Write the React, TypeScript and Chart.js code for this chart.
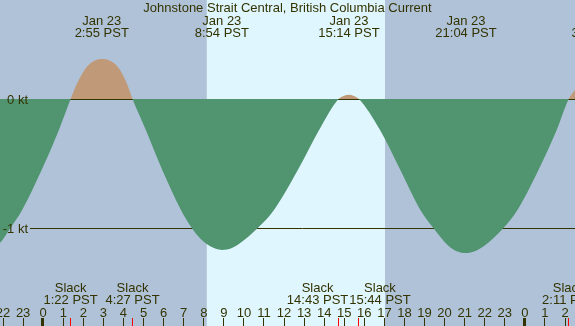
import React, { useEffect, useRef } from 'react';
import Chart from 'chart.js/auto';

const TITLE = 'Johnstone Strait Central, British Columbia Current';

// current curve (hours since 0:00 Jan 23 PST, knots)
const hours = [-3.1, -2.152, -1.63, -1.056, -0.085, 0.777, 1.367, 1.7, 2.2, 2.917, 3.69, 4.16, 4.45, 5.12, 5.94, 6.87, 7.32, 7.7, 8.3, 8.9, 9.4, 10.0, 10.69, 11.49, 12.68, 13.74, 14.717, 14.97, 15.233, 15.48, 15.733, 16.79, 17.8, 18.8, 19.44, 20.2, 20.6, 21.067, 21.5, 22.0, 22.93, 23.62, 24.67, 25.58, 26.183, 26.5, 27.0, 27.67];
const knots = [-1.17, -1.114, -1.0, -0.862, -0.552, -0.242, 0, 0.124, 0.253, 0.31, 0.253, 0.124, 0, -0.242, -0.552, -0.862, -0.98, -1.06, -1.14, -1.17, -1.155, -1.095, -1.0, -0.862, -0.552, -0.242, 0, 0.024, 0.033, 0.024, 0, -0.242, -0.552, -0.862, -1.0, -1.14, -1.18, -1.194, -1.18, -1.135, -1.0, -0.862, -0.552, -0.242, 0, 0.07, 0.17, 0.2];

const extremeHours = [2.917, 8.9, 15.233, 21.067, 27.67];
const extremeDates = ['Jan 23', 'Jan 23', 'Jan 23', 'Jan 23', 'Jan 24'];
const extremeTimes = ['2:55 PST', '8:54 PST', '15:14 PST', '21:04 PST', '3:40 PST'];

const slackHours = [1.367, 4.45, 14.717, 15.733, 26.183];
const slackTimes = ['1:22 PST', '4:27 PST', '14:43 PST', '15:44 PST', '2:11 PST'];

const hourTicks = [-2, -1, 0, 1, 2, 3, 4, 5, 6, 7, 8, 9, 10, 11, 12, 13, 14, 15, 16, 17, 18, 19, 20, 21, 22, 23, 24, 25, 26];

const levelValues = [0, -1];
const levelLabels = ['0 kt', '-1 kt'];

const sunrise = 8.15;
const sunset = 17.03;

const X_MIN = -2.152;
const X_MAX = 26.497;
const Y_MIN = -1.7597;
const Y_MAX = 0.7674;

const NIGHT = '#B0C2D8';
const DAY = '#E0F6FE';
const EBB = '#509470';
const FLOOD = '#C09A78';
const INK = '#333300';
const FONT = '13px "Liberation Sans", Arial, sans-serif';

export default function App() {
  const ref = useRef<HTMLCanvasElement>(null);

  useEffect(() => {
    document.body.style.margin = '0';
    const canvas = ref.current;
    if (!canvas) return;
    const points = hours.map((h, i) => ({ x: h, y: knots[i] }));

    const deco = {
      id: 'deco',
      beforeDraw(chart: any) {
        const { ctx, scales } = chart;
        const xs = scales.x;
        const h = chart.height;
        ctx.save();
        ctx.fillStyle = NIGHT;
        ctx.fillRect(0, 0, chart.width, h);
        const x1 = xs.getPixelForValue(sunrise);
        const x2 = xs.getPixelForValue(sunset);
        ctx.fillStyle = DAY;
        ctx.fillRect(x1, 0, x2 - x1, h);
        ctx.restore();
      },
      afterDatasetDraw(chart: any, args: any) {
        if (args.index !== 1) return;
        const { ctx, scales } = chart;
        ctx.save();
        ctx.strokeStyle = INK;
        ctx.lineWidth = 1;
        levelValues.forEach((v) => {
          const y = Math.floor(scales.y.getPixelForValue(v) + 0.01) + 0.5;
          ctx.beginPath();
          ctx.moveTo(30, y);
          ctx.lineTo(chart.width, y);
          ctx.stroke();
        });
        ctx.restore();
      },
      afterDatasetsDraw(chart: any) {
        const { ctx, scales } = chart;
        const xs = scales.x;
        const ys = scales.y;
        ctx.save();
        ctx.font = FONT;
        ctx.fillStyle = INK;
        ctx.textBaseline = 'alphabetic';
        ctx.textAlign = 'right';
        levelValues.forEach((v, i) => {
          const y = ys.getPixelForValue(v);
          ctx.fillText(levelLabels[i], 28, y + 4.6);
        });
        ctx.textAlign = 'center';
        ctx.fillText(TITLE, chart.width / 2, 12.3);
        extremeHours.forEach((h, i) => {
          const x = xs.getPixelForValue(h);
          ctx.fillText(extremeDates[i], x, 25);
          ctx.fillText(extremeTimes[i], x, 36.5);
        });
        // slack labels, pushed apart when they would overlap
        const sx = slackHours.map((h) => xs.getPixelForValue(h));
        const sw = slackTimes.map((t) => ctx.measureText(t).width);
        for (let i = 1; i < sx.length; i++) {
          const need = (sw[i - 1] + sw[i]) / 2 + 1;
          const gap = sx[i] - sx[i - 1];
          if (gap < need) {
            const d = (need - gap) / 2;
            sx[i - 1] -= d;
            sx[i] += d;
          }
        }
        slackTimes.forEach((t, i) => {
          ctx.fillText('Slack', sx[i], 292);
          ctx.fillText(t, sx[i], 304);
        });
        hourTicks.forEach((hr) => {
          const x = xs.getPixelForValue(hr);
          const lbl = String(((hr % 24) + 24) % 24);
          ctx.fillText(lbl, x, 317);
          if (lbl === '0') {
            ctx.fillRect(Math.round(x) - 2, 318, 3, 8);
          } else {
            ctx.fillRect(Math.floor(x), 318, 1, 8);
          }
        });
        ctx.fillStyle = '#FF0000';
        slackHours.forEach((h) => {
          const x = xs.getPixelForValue(h);
          ctx.fillRect(Math.floor(x), 318, 1, 8);
        });
        ctx.restore();
      },
    };

    const chart = new Chart(canvas, {
      type: 'line',
      data: {
        datasets: [
          {
            data: points,
            fill: { target: 'origin', above: 'rgba(0,0,0,0)', below: EBB },
            borderColor: 'rgba(0,0,0,0)',
            borderWidth: 0,
            pointRadius: 0,
            cubicInterpolationMode: 'monotone',
          },
          {
            data: points,
            fill: { target: 'origin', above: FLOOD, below: 'rgba(0,0,0,0)' },
            borderColor: 'rgba(0,0,0,0)',
            borderWidth: 0,
            pointRadius: 0,
            cubicInterpolationMode: 'monotone',
          },
        ],
      },
      options: {
        animation: false,
        responsive: false,
        events: [],
        layout: { padding: 0 },
        scales: {
          x: { type: 'linear', min: X_MIN, max: X_MAX, display: false },
          y: { type: 'linear', min: Y_MIN, max: Y_MAX, display: false },
        },
        plugins: {
          legend: { display: false },
          tooltip: { enabled: false },
          title: { display: false },
        },
      },
      plugins: [deco],
    } as any);

    return () => chart.destroy();
  }, []);

  return (
    <div style={{ position: 'fixed', left: 0, top: 0, width: 575, height: 326 }}>
      <canvas ref={ref} width={575} height={326} style={{ display: 'block', width: 575, height: 326 }} />
    </div>
  );
}
